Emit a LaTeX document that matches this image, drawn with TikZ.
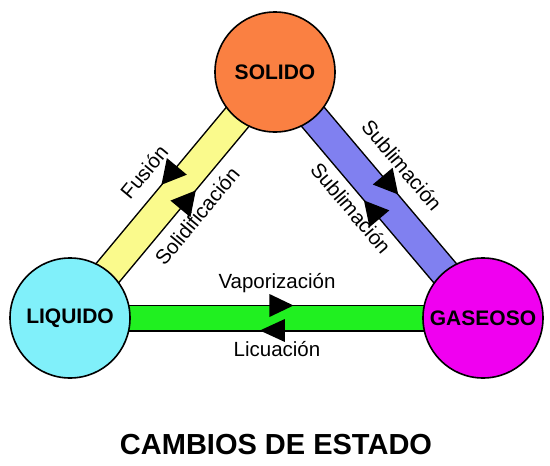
\documentclass[tikz,border=0pt]{standalone}
\usepackage{fontspec}
\setmainfont{Liberation Sans}
\usetikzlibrary{backgrounds,decorations.markings}
\definecolor{solidoc}{RGB}{250,128,66}
\definecolor{liquidoc}{RGB}{128,240,250}
\definecolor{gaseosoc}{RGB}{240,0,240}
\definecolor{yellowb}{RGB}{250,250,140}
\definecolor{blueb}{RGB}{128,128,240}
\definecolor{greenb}{RGB}{32,240,32}
\begin{document}
\begin{tikzpicture}[x=1pt,y=-1pt,
  state/.style={circle, draw=black, line width=1.6pt, minimum size=120pt, inner sep=0pt,
    font=\fontsize{21}{24}\selectfont\bfseries},
  lbl/.style={font=\fontsize{20.5}{24}\selectfont, inner sep=0pt},
  bandout/.style={line width=#1, draw=black},
  bandin/.style={line width=#1},
  tri/.style={fill=black}]
\useasboundingbox (0,0) rectangle (550,466);
\node[state, fill=solidoc] (S) at (275,72) {SOLIDO};
\node[state, fill=liquidoc] (L) at (70,318) {LIQUIDO};
\node[state, fill=gaseosoc] (G) at (483,318) {GASEOSO};

\begin{scope}[on background layer]
  % yellow band LIQUIDO - SOLIDO
  \draw[bandout=31pt] (L.center) -- (S.center);
  \draw[bandin=28pt, yellowb] (L.center) -- (S.center);
  % blue band SOLIDO - GASEOSO
  \draw[bandout=31pt] (S.center) -- (G.center);
  \draw[bandin=28pt, blueb] (S.center) -- (G.center);
  % green band LIQUIDO - GASEOSO
  \draw[bandout=27pt] (L.center) -- (G.center);
  \draw[bandin=24pt, greenb] (L.center) -- (G.center);
\end{scope}

% arrowheads
\path[postaction={decorate}, decoration={markings,
  mark=at position 0.54 with {\fill[tri] (-12pt,15pt) -- (12pt,28pt) -- (12pt,2pt) -- cycle;},
  mark=at position 0.52 with {\fill[tri] (12pt,-15pt) -- (-12pt,-2pt) -- (-12pt,-28pt) -- cycle;}}]
  (L.center) -- (S.center);
\path[postaction={decorate}, decoration={markings,
  mark=at position 0.50 with {\fill[tri] (12pt,15pt) -- (-12pt,28pt) -- (-12pt,2pt) -- cycle;},
  mark=at position 0.52 with {\fill[tri] (-12pt,-15pt) -- (12pt,-2pt) -- (12pt,-28pt) -- cycle;}}]
  (S.center) -- (G.center);
\path[postaction={decorate}, decoration={markings,
  mark=at position 0.512 with {\fill[tri] (12pt,12.5pt) -- (-12pt,24pt) -- (-12pt,1pt) -- cycle;},
  mark=at position 0.49 with {\fill[tri] (-12.5pt,-12.5pt) -- (12.5pt,-1pt) -- (12.5pt,-24pt) -- cycle;}}]
  (L.center) -- (G.center);

% labels
\node[lbl, rotate=50.4] (fus) at (144,172) {Fusión};
\node[lbl, rotate=50.4] (sol) at (197,216) {Solidificación};
\node[lbl, rotate=-49.8] (sub1) at (402,165) {Sublimación};
\node[lbl, rotate=-49.8] (sub2) at (351,208) {Sublimación};
\node[lbl] (vap) at (277,283) {Vaporización};
\node[lbl] (lic) at (277,349) {Licuación};
\node[font=\fontsize{29}{34}\selectfont\bfseries, inner sep=0pt] (title) at (276,444.5) {CAMBIOS DE ESTADO};
\end{tikzpicture}
\end{document}
